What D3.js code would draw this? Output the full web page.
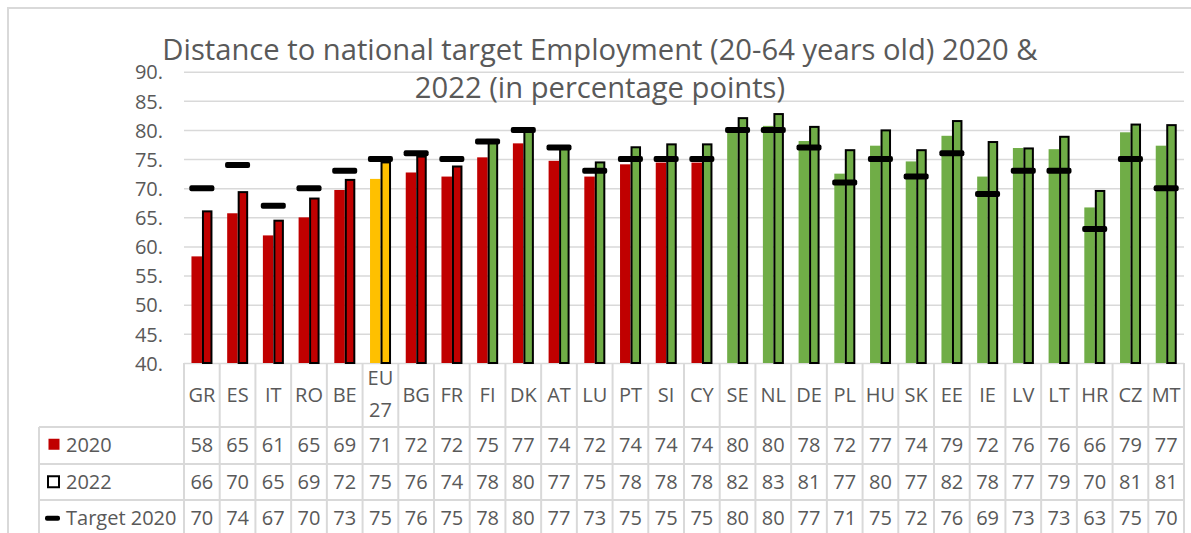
<!DOCTYPE html>
<html>
<head>
<meta charset="utf-8">
<script src="https://cdn.jsdelivr.net/npm/d3@7"></script>
<style>
  body { margin: 0; background: #fff; }
  svg text { font-family: "Open Sans", sans-serif; fill: #595959; }
</style>
</head>
<body>
<svg id="chart" width="1191" height="533"></svg>
<script>
// ── data ────────────────────────────────────────────────
const countries = ["GR","ES","IT","RO","BE","EU 27","BG","FR","FI","DK","AT","LU","PT","SI",
                   "CY","SE","NL","DE","PL","HU","SK","EE","IE","LV","LT","HR","CZ","MT"];
// bar heights
const values2020 = [58.3,65.7,61.9,65.0,69.7,71.6,72.7,72.0,75.3,77.7,74.7,72.0,74.1,74.4,
                    74.4,80.1,80.7,78.1,72.5,77.3,74.6,79.0,72.0,76.9,76.7,66.7,79.6,77.3];
const values2022 = [66.2,69.5,64.6,68.4,71.6,74.6,75.6,73.9,78.1,80.2,77.2,74.6,77.2,77.7,
                    77.7,82.2,82.9,80.7,76.7,80.1,76.7,81.7,78.1,77.0,79.0,69.7,81.1,81.0];
const targets2020 = [70,74,67,70,73,75,76,75,78,80,77,73,75,75,75,80,80,77,71,75,72,76,69,73,73,63,75,70];
// numbers printed in the data table
const table2020 = [58,65,61,65,69,71,72,72,75,77,74,72,74,74,74,80,80,78,72,77,74,79,72,76,76,66,79,77];
const table2022 = [66,70,65,69,72,75,76,74,78,80,77,75,78,78,78,82,83,81,77,80,77,82,78,77,79,70,81,81];
const yTicks = [40,45,50,55,60,65,70,75,80,85,90];
const titleLines = ["Distance to national target Employment (20-64 years old) 2020 &",
                    "2022 (in percentage points)"];
const EU = "EU 27";

// ── 상수 ────────────────────────────────────────────────
const RED = "#C00000", YELLOW = "#FFC000", GREEN = "#70AD47";
const GRID = "#D9D9D9";
const PLOT_L = 184, PLOT_R = 1184, Y_BOT = 363, Y_TOP = 71.7;

const svg = d3.select("#chart");

const x = d3.scaleBand().domain(countries).range([PLOT_L, PLOT_R]);
const y = d3.scaleLinear().domain([40, 90]).range([Y_BOT, Y_TOP]);
const sub = d3.scaleBand().domain(["2020", "2022"]).range([-10.4, 10.6]);

// EU는 노랑, 목표 달성은 초록, 미달은 빨강
const colorOf = (c, v, t) => c === EU ? YELLOW : (v >= t ? GREEN : RED);

// 바깥 차트 테두리
svg.append("path").attr("d", "M8,533V8H1191")
  .attr("fill", "none").attr("stroke", GRID).attr("stroke-width", 2);

// 격자선 + y축 라벨
const yAxis = svg.append("g")
  .attr("transform", `translate(${PLOT_L},0)`)
  .call(d3.axisLeft(y).tickValues(yTicks).tickSize(-(PLOT_R - PLOT_L))
    .tickPadding(21).tickFormat(d => d + "."));
yAxis.select(".domain").remove();
yAxis.selectAll("line").attr("stroke", GRID).attr("stroke-width", 1.5);
yAxis.selectAll("text").attr("font-size", 20).attr("fill", "#595959")
  .attr("dy", "0.36em").style("font-family", "'Open Sans', sans-serif");

// 제목
svg.append("g").selectAll("text").data(titleLines).join("text")
  .attr("x", 600).attr("y", (d, i) => 60 + i * 38)
  .attr("text-anchor", "middle").attr("font-size", 29.2)
  .text(d => d);

// 막대 그룹
const rows = countries.map((c, i) => ({
  c, v20: values2020[i], v22: values2022[i], t: targets2020[i]
}));
const grp = svg.append("g").selectAll("g").data(rows).join("g")
  .attr("transform", d => `translate(${x(d.c) + x.bandwidth() / 2},0)`);

grp.append("rect")
  .attr("x", sub("2020")).attr("width", sub.bandwidth())
  .attr("y", d => y(d.v20)).attr("height", d => Y_BOT - y(d.v20))
  .attr("fill", d => colorOf(d.c, d.v20, d.t));

grp.append("rect")
  .attr("x", sub("2022") + 1).attr("width", sub.bandwidth() - 2)
  .attr("y", d => y(d.v22) + 1).attr("height", d => Y_BOT - y(d.v22) - 1)
  .attr("fill", d => colorOf(d.c, d.v22, d.t))
  .attr("stroke", "#000").attr("stroke-width", 2);

// 목표 표시 (검은 대시)
grp.append("rect")
  .attr("x", -12.5).attr("width", 25)
  .attr("y", d => y(d.t) - 3).attr("height", 6).attr("rx", 2)
  .attr("fill", "#000");

// ── 데이터 테이블 ───────────────────────────────────────
const ROW_TOP = [427, 464, 500], ROW_H = 36.5, LEG_L = 39;
const tbl = svg.append("g");
const bounds = countries.map(c => x(c)).concat([PLOT_R]);

// 세로선
tbl.selectAll(".vl").data(bounds).join("line")
  .attr("x1", d => d).attr("x2", d => d).attr("y1", Y_BOT).attr("y2", 533)
  .attr("stroke", GRID).attr("stroke-width", 2);
tbl.append("line").attr("x1", LEG_L).attr("x2", LEG_L).attr("y1", ROW_TOP[0]).attr("y2", 533)
  .attr("stroke", GRID).attr("stroke-width", 2);
// 가로선
tbl.selectAll(".hl").data(ROW_TOP).join("line")
  .attr("x1", LEG_L).attr("x2", PLOT_R).attr("y1", d => d).attr("y2", d => d)
  .attr("stroke", GRID).attr("stroke-width", 2);

// 머리글 (국가)
const FS = 20;
const head = tbl.selectAll(".hd").data(countries).join("text")
  .attr("text-anchor", "middle").attr("font-size", FS)
  .attr("x", c => x(c) + x.bandwidth() / 2);
head.each(function (c) {
  const parts = c.split(" ");
  const t = d3.select(this);
  parts.forEach((p, k) => {
    const cy = parts.length === 1 ? 395 : 377.5 + k * 32.5;
    t.append("tspan").attr("x", x(c) + x.bandwidth() / 2)
      .attr("y", cy + 0.357 * FS).text(p);
  });
});

// 행 값
const tableRows = [table2020, table2022, targets2020];
tableRows.forEach((vals, r) => {
  tbl.append("g").selectAll("text").data(vals).join("text")
    .attr("text-anchor", "middle").attr("font-size", FS)
    .attr("x", (d, i) => x(countries[i]) + x.bandwidth() / 2)
    .attr("y", ROW_TOP[r] + ROW_H / 2 + 0.357 * FS)
    .text(d => d);
});

// 범례 칸
const legendLabels = ["2020", "2022", "Target 2020"];
legendLabels.forEach((l, r) => {
  const cy = ROW_TOP[r] + ROW_H / 2;
  tbl.append("text").attr("x", 66).attr("y", cy + 0.357 * 20)
    .attr("font-size", 20).text(l);
});
tbl.append("rect").attr("x", 48.5).attr("y", ROW_TOP[0] + ROW_H / 2 - 6.5)
  .attr("width", 11).attr("height", 11).attr("fill", RED);
tbl.append("rect").attr("x", 48).attr("y", ROW_TOP[1] + ROW_H / 2 - 6)
  .attr("width", 11).attr("height", 11)
  .attr("fill", "none").attr("stroke", "#000").attr("stroke-width", 2);
tbl.append("rect").attr("x", 45).attr("y", ROW_TOP[2] + ROW_H / 2 - 2.5)
  .attr("width", 15).attr("height", 5).attr("rx", 2).attr("fill", "#000");
</script>
</body>
</html>
